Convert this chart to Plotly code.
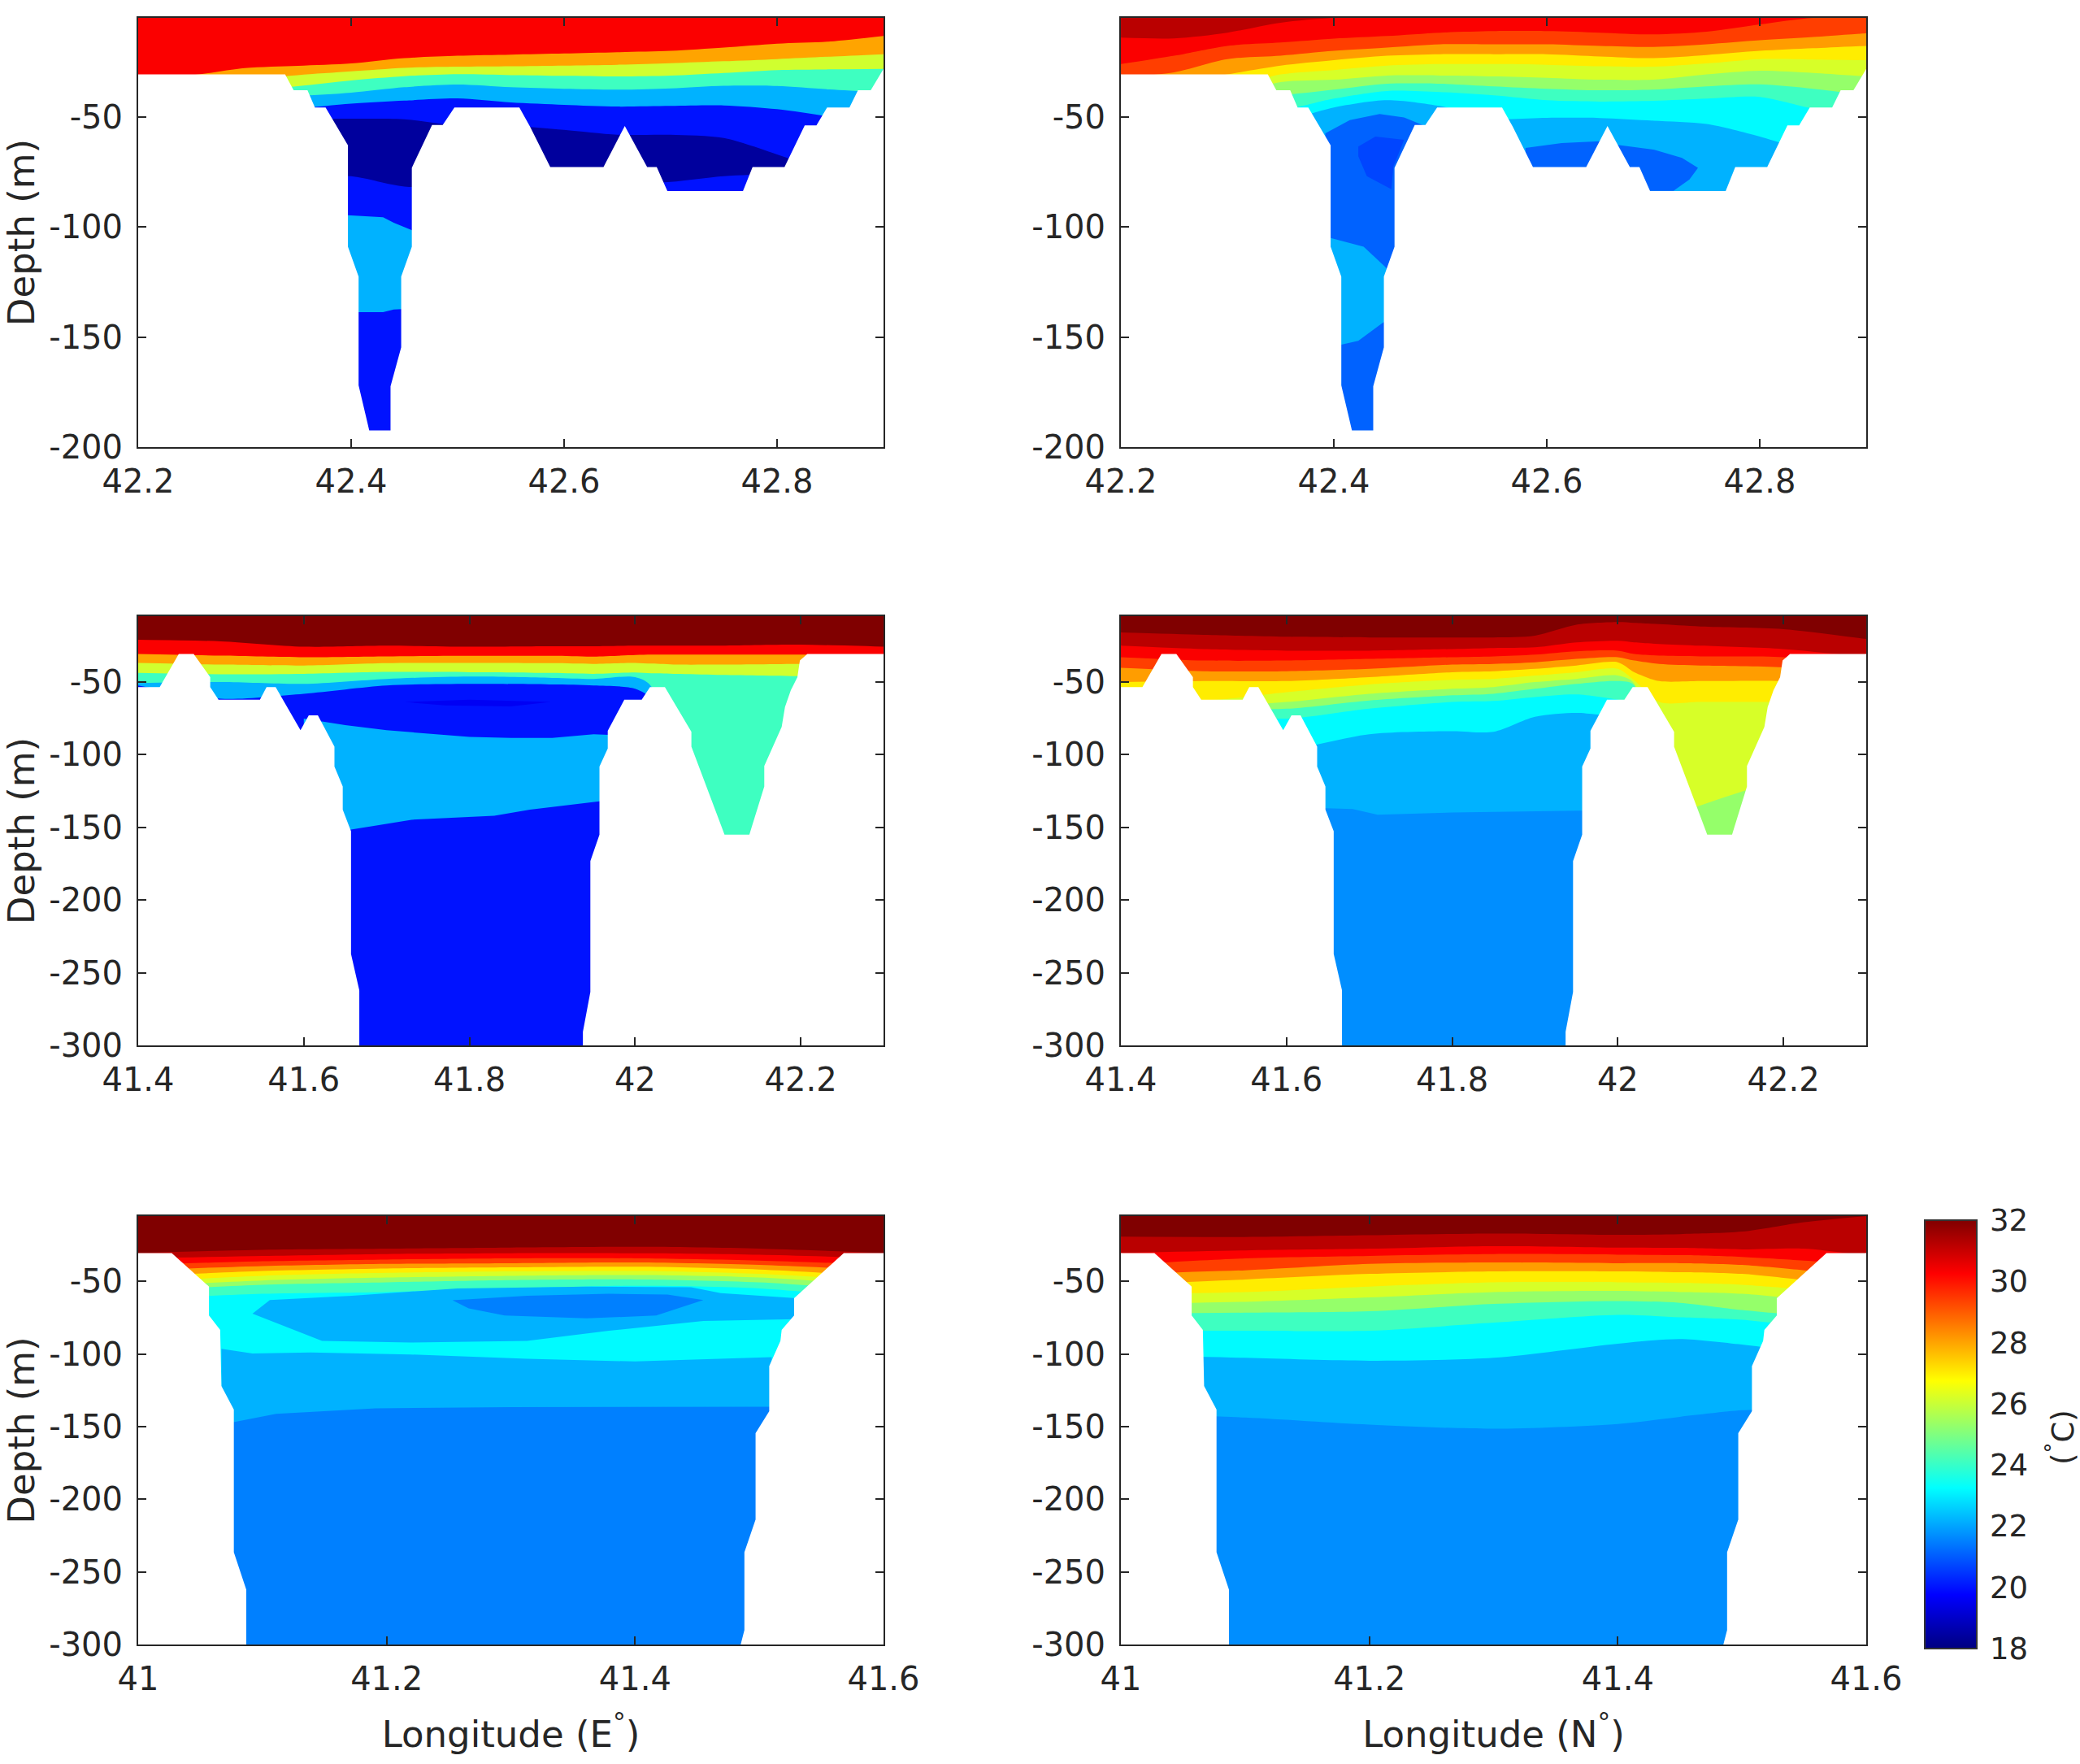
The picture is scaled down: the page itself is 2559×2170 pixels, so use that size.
import plotly.graph_objects as go
import plotly.colors as pc

# Colour scale of the temperature bar (MATLAB jet)
jet = [[0, 'rgb(0,0,128)'], [0.125, 'rgb(0,0,255)'], [0.375, 'rgb(0,255,255)'],
       [0.625, 'rgb(255,255,0)'], [0.875, 'rgb(255,0,0)'], [1, 'rgb(128,0,0)']]
temp_min = 18
temp_max = 32
colorbar_ticks = [18, 20, 22, 24, 26, 28, 30, 32]

# Sea floor of each row of panels (longitude, depth)
row1_floor_lon = [42.2, 42.338, 42.346, 42.359, 42.366, 42.376, 42.397, 42.397, 42.407, 42.407, 42.417, 42.437, 42.437,
                  42.447, 42.447, 42.457, 42.457, 42.476, 42.486, 42.497, 42.558, 42.568, 42.587, 42.637, 42.657, 42.678,
                  42.687, 42.697, 42.768, 42.777, 42.807, 42.826, 42.837, 42.847, 42.868, 42.876, 42.888, 42.9]
row1_floor_depth = [-30.7, -30.7, -37.9, -37.9, -45.7, -45.7, -62.9, -109, -122.5, -171.9, -192.4, -192.4, -172.4,
                    -154.7, -122.5, -109, -73.1, -53.7, -53.7, -45.7, -45.7, -54.4, -72.8, -72.8, -54.1, -72.8,
                    -72.8, -83.7, -83.7, -72.8, -72.8, -53.8, -53.8, -45.7, -45.7, -37.9, -37.9, -28.2]
row2_floor_lon = [41.4, 41.426, 41.449, 41.467, 41.487, 41.487, 41.497, 41.547, 41.555, 41.566, 41.596, 41.606, 41.617,
                  41.637, 41.637, 41.647, 41.647, 41.657, 41.657, 41.667, 41.667, 41.937, 41.937, 41.946, 41.946, 41.957,
                  41.957, 41.967, 41.967, 41.987, 42.008, 42.018, 42.036, 42.057, 42.068, 42.068, 42.108, 42.138, 42.156,
                  42.156, 42.177, 42.181, 42.188, 42.196, 42.199, 42.208, 42.3]
row2_floor_depth = [-53.7, -53.7, -31, -31, -46.9, -53.7, -62.4, -62.4, -53.7, -53.7, -83.4, -73.1, -73.1,
                    -94.7, -108.4, -122.1, -138, -152.8, -237.1, -262.2, -300, -300, -290.7, -263.3, -173.3, -155.1,
                    -108.4, -95.9, -83.8, -62.4, -62.4, -53.7, -53.7, -74.2, -84.5, -94.7, -155.1, -155.1, -122.1,
                    -108, -81.1, -67.4, -56, -46.9, -35.5, -31, -31]
row3_floor_lon = [41, 41.027, 41.057, 41.057, 41.066, 41.067, 41.077, 41.077, 41.087, 41.087, 41.485, 41.488, 41.488,
                  41.497, 41.497, 41.508, 41.508, 41.517, 41.518, 41.528, 41.528, 41.568, 41.6]
row3_floor_depth = [-30.4, -30.4, -53.5, -73.5, -83.4, -122, -138.2, -236.5, -262.2, -300, -300, -290, -236.5,
                    -214, -154.4, -139.4, -108.3, -90.9, -83.4, -73.5, -61.5, -30.4, -30.4]

# Panel A: temperature of each band, then the depth of the top of every band below the first
a_lon = [42.2, 42.25, 42.3, 42.35, 42.4, 42.45, 42.5, 42.55, 42.6, 42.65, 42.7, 42.75, 42.8, 42.85, 42.9]
a_temps = [30.3, 28, 26.1, 24.1, 22.2, 20, 18.4, 20]
a_tops = [
    [-31, -31, -27.8, -26.8, -25.7, -23.3, -22.2, -21.7, -21.2, -20.6, -20, -18.5, -16.7, -15.7, -13.2],
    [-34, -34, -33, -31, -29.3, -27.7, -27.2, -27, -26.7, -26.3, -25.6, -24.7, -23.7, -22.6, -21.5],
    [-38, -38, -38, -36, -33.4, -31.5, -30.6, -31, -31.3, -31.6, -31.2, -30, -28.7, -28.4, -28.2],
    [-41, -41, -41, -40.5, -39, -36.5, -35.3, -36.5, -37.2, -37.6, -37, -35.8, -35.9, -37.5, -39],
    [-46, -46, -46, -46, -44, -42.6, -41.6, -43.4, -44.5, -45.3, -45, -44.8, -46.5, -50, -55],
    [-51, -51, -51, -51, -50.8, -51.1, -54, -54, -55.9, -58.1, -58.1, -59.6, -67, -75, -80],
    [-76.9, -76.9, -76.9, -76.9, -76.9, -81.6, -81.5, -81, -81, -80.5, -79.5, -76.9, -76, -76, -76],
]
a_deep_lon = [42.39, 42.43, 42.44, 42.46]
a_deep_t22 = [-94.5, -95.6, -98.1, -102]
a_deep_t20 = [-138.7, -138.7, -137.5, -137]

# Panel B
b_lon = a_lon
b_temps = [31.2, 30.3, 29.4, 28.1, 27, 26.2, 25.3, 24.1, 23.2, 22.2]
b_tops = [
    [-14, -14.3, -11.7, -7.2, -5, -5, -5, -5, -5, -5, -5, -5, -5, -5, -5],
    [-26, -22.2, -17.7, -16.2, -14.4, -13.2, -11.7, -11, -11, -11.7, -12.5, -11.3, -8, -5, -5],
    [-32, -29.7, -23.7, -22.2, -20, -18.5, -17, -17, -17, -17.7, -18.2, -17, -15.2, -13.7, -12],
    [-35, -35, -30.7, -26.7, -24.2, -22.2, -21.5, -21.5, -21.5, -22.5, -23.3, -21.9, -20, -18.8, -17.7],
    [-37, -37, -37, -30.7, -28.7, -26.7, -26, -26, -26.3, -27, -27.2, -25.7, -23.7, -23.9, -24.2],
    [-40, -40, -40, -34.2, -33.1, -31.2, -31.2, -31.6, -32.2, -33.1, -33.1, -30.7, -29, -30, -31.6],
    [-42, -42, -42, -40.2, -37.6, -34.9, -34.9, -36.1, -37.2, -37.9, -37.6, -36.1, -35.2, -37.2, -40.2],
    [-47, -47, -47, -47, -41.7, -38.2, -38.7, -40.2, -42.4, -43, -42.7, -41.7, -40.9, -46.2, -50],
    [-52, -52, -52, -52, -45.7, -42.4, -45.1, -50.7, -50.4, -50.5, -51.7, -53.2, -58.9, -66, -70],
]
b_trench_lon = [42.392, 42.415, 42.443, 42.466, 42.487]
b_trench_t21 = [-57.4, -51.4, -48.7, -50.2, -54.4]
b_trench_low_lon = [42.397, 42.428, 42.448, 42.46]
b_trench_low_t22 = [-105, -109, -118, -125]
b_trench_floor_lon = [42.407, 42.423, 42.446, 42.46]
b_trench_floor_t21 = [-153.5, -151.7, -143.5, -140]
b_lens_lon = [42.423, 42.439, 42.466, 42.456, 42.454, 42.431, 42.423]
b_lens_depth = [-63.4, -58.9, -60.4, -72.4, -82.8, -76.9, -67.9]
b_trough1_lon = [42.58, 42.614, 42.65, 42.66]
b_trough1_t21 = [-64.1, -61.9, -61, -61]
b_trough2_lon = [42.665, 42.701, 42.727, 42.742, 42.734, 42.719, 42.681, 42.665]
b_trough2_depth = [-62.6, -64.9, -68.6, -73.1, -78.4, -83.6, -83.6, -73]

# Panel C
c_lon = [41.4, 41.5, 41.6, 41.7, 41.8, 41.9, 41.95, 42.0, 42.02, 42.05, 42.1, 42.2, 42.3]
c_temps = [32, 30.3, 28, 26.1, 24.1, 22.2, 20]
c_tops = [
    [-21.2, -22.3, -26, -25.3, -26, -25.7, -25.7, -25.3, -25.3, -25.3, -25.3, -24.6, -26],
    [-31, -32.1, -33.2, -32.6, -32.3, -32.3, -32.8, -31.7, -31.4, -31.4, -31.4, -31.4, -31.4],
    [-37.1, -38.3, -38.9, -37.3, -37.1, -37.3, -37.8, -37.1, -37.6, -38.3, -38.3, -37.8, -37.8],
    [-44, -44.9, -44.6, -43.3, -43.5, -44, -44.6, -43.7, -44.2, -44.6, -45.3, -46.2, -46.9],
    [-51, -50.3, -51.5, -48.1, -46.5, -47.4, -48.1, -46.9, -53.7, -300, -300, -300, -300],
    [-52.6, -61.7, -58.3, -52.6, -51.5, -51.9, -52.6, -54.9, -62.9, -300, -300, -300, -300],
]
c_mid_lon = [41.6, 41.65, 41.7, 41.75, 41.8, 41.85, 41.9, 41.95, 41.98]
c_mid_t22 = [-75.4, -79.9, -83.4, -85.6, -87.9, -88.6, -88.6, -86.1, -86.8]
c_deep_lon = [41.65, 41.657, 41.73, 41.83, 41.873, 41.957, 41.97]
c_deep_t20 = [-153, -151.7, -144.9, -142.1, -138, -132.3, -132]
c_lens_lon = [41.722, 41.77, 41.85, 41.898, 41.8, 41.722]
c_lens_depth = [-64, -66.3, -67, -64, -62.4, -64]

# Panel D
d_lon = [41.4, 41.5, 41.6, 41.7, 41.8, 41.85, 41.9, 41.95, 42.0, 42.02, 42.05, 42.1, 42.2, 42.3]
d_temps = [32, 31.2, 30.3, 29.4, 28.1, 27, 26.2, 25.3, 24.1, 23.2, 22.2]
d_tops = [
    [-16.2, -17.8, -19.1, -19.6, -19.6, -19.6, -18.4, -10.9, -9.1, -9.6, -10.5, -12.1, -13.9, -20.7],
    [-25.3, -27.6, -28.7, -28.7, -27.6, -26.9, -26.4, -23, -21.9, -23, -24.1, -25.3, -27.6, -33.2],
    [-33.2, -35.5, -35.5, -34.4, -33.2, -32.6, -31.4, -29.1, -28.7, -31, -32.1, -32.6, -33.2, -40.1],
    [-40.5, -42.8, -42.8, -41.2, -38.3, -37.8, -36.7, -34.4, -33.2, -35.5, -37.8, -38.9, -40.1, -44.6],
    [-50.3, -49.6, -49.6, -46.9, -43.5, -42.8, -41.2, -38.9, -36.7, -43.5, -49.6, -49.6, -49.6, -53.7],
    [-58.3, -62.9, -57.2, -51.9, -48.7, -48.1, -45.8, -43.5, -41.2, -49.2, -64, -64, -64, -65.1],
    [-62.9, -67.4, -64, -58.3, -54.9, -53.7, -50.3, -48.1, -45.8, -51.5, -300, -300, -300, -300],
    [-65.1, -68.6, -68.6, -62.9, -59.4, -58.3, -54.9, -51.5, -49.6, -52.6, -300, -300, -300, -300],
    [-69.7, -72, -75.4, -68.6, -64, -63.3, -60.6, -58.8, -62.4, -65.1, -300, -300, -300, -300],
    [-100, -100, -97, -86.1, -84, -84.5, -74.2, -71.5, -74, -74, -300, -300, -300, -300],
]
d_deep_lon = [41.64, 41.68, 41.71, 41.8, 41.97]
d_deep_t22 = [-136.9, -137.6, -141.4, -139.9, -138.5]
d_tip_lon = [42.09, 42.096, 42.125, 42.156, 42.16]
d_tip_t25 = [-137, -135.8, -130.1, -124.4, -123]

# Panel E
e_lon = [41, 41.1, 41.2, 41.3, 41.4, 41.5, 41.6]
e_temps = [32, 31.2, 30.3, 29.4, 28.1, 27, 26.2, 25.3, 24.1, 23.2]
e_tops = [
    [-30.4, -28.2, -27.4, -26.7, -26.2, -27.4, -30.4],
    [-34.1, -32.4, -31.1, -30.6, -30.6, -31.6, -34.1],
    [-38.6, -36.1, -34.9, -34.1, -34.1, -35.6, -38.6],
    [-42.3, -39.4, -37.9, -37.4, -36.9, -38.6, -42.3],
    [-46.6, -42.8, -41.1, -40.3, -39.9, -41.8, -46.6],
    [-50.3, -46.1, -44.1, -43.1, -42.8, -44.8, -49.8],
    [-53.5, -49.3, -47.3, -46.1, -45.6, -47.3, -53],
    [-56.5, -52.3, -50.6, -49.1, -48.6, -50.6, -56.5],
    [-62.3, -58.5, -57.3, -54.8, -53, -54.8, -62.3],
]
e_lens_lon = [41.106, 41.172, 41.257, 41.361, 41.445, 41.469, 41.53, 41.53, 41.455, 41.379, 41.313, 41.219, 41.148,
              41.125, 41.092, 41.106]
e_lens_depth = [-62.8, -59.8, -54.8, -53.5, -54, -58, -61.5, -76, -77.2, -83.9, -90.9, -92.1, -90.9,
                -83.4, -72.2, -62.8]
e_core_lon = [41.253, 41.313, 41.379, 41.426, 41.455, 41.417, 41.361, 41.295, 41.266, 41.253]
e_core_depth = [-63, -59.8, -58.5, -59, -62.8, -73.5, -75.4, -73.5, -68.5, -63]
e_low_lon = [41.067, 41.092, 41.139, 41.219, 41.313, 41.4, 41.51]
e_low_t22 = [-96.4, -99.6, -98.9, -100.3, -103.3, -105.1, -102.1]
e_deep_lon = [41.07, 41.077, 41.111, 41.191, 41.3, 41.52]
e_deep_t21 = [-148, -146.9, -141.2, -137.4, -136.5, -136.2]

# Panel F
f_lon = [41, 41.1, 41.2, 41.3, 41.4, 41.45, 41.5, 41.55, 41.6]
f_temps = [32, 31.2, 30.3, 29.4, 28.1, 27, 26.2, 25.3, 24.1, 23.2, 22.2, 21.7]
f_tops = [
    [-19.2, -19.4, -18.2, -17, -17.9, -17.4, -15.7, -9.2, -5],
    [-30.4, -28.6, -27.4, -25.7, -26.7, -26.9, -27.9, -27.4, -32.4],
    [-38.6, -34.1, -32.4, -31.1, -31.6, -31.9, -33.1, -35.6, -38.6],
    [-44.8, -42.3, -37.9, -36.9, -37.4, -37.4, -38.6, -42.3, -46.1],
    [-52.3, -48.6, -44.8, -43.1, -43.1, -43.6, -44.8, -49.1, -53.5],
    [-59, -57.3, -53.5, -50.6, -50.6, -51.1, -52.3, -55.5, -58.5],
    [-65.5, -64, -61, -57.3, -56.5, -57.3, -58.5, -62.3, -66],
    [-72.2, -71.5, -70.5, -65.5, -63.5, -64.7, -69.7, -73.5, -76],
    [-83.9, -83.9, -83.9, -78.4, -73, -74.7, -76.4, -80.9, -83.4],
    [-100.3, -102.6, -104.6, -102.6, -92.9, -89.6, -93.4, -98.4, -98.4],
    [-140.7, -143.7, -148.6, -151.4, -148.1, -143.2, -138.7, -136.9, -136.9],
]

row1_xticks = [42.2, 42.4, 42.6, 42.8]
row2_xticks = [41.4, 41.6, 41.8, 42, 42.2]
row3_xticks = [41, 41.2, 41.4, 41.6]
row1_yticks = [-50, -100, -150, -200]
deep_yticks = [-50, -100, -150, -200, -250, -300]
axis_top = -5


def jet_color(temp):
    return pc.sample_colorscale(jet, [(temp - temp_min) / (temp_max - temp_min)])[0]


W, H = 2559, 2170
fig = go.Figure()


def fill_poly(n, xs, ys, color):
    fig.add_trace(go.Scatter(
        x=xs, y=ys, mode='lines', line=dict(width=0), fill='toself', fillcolor=color,
        hoverinfo='skip', showlegend=False, xaxis='x%d' % n, yaxis='y%d' % n
    ))


def band(n, temp, lons, tops, bottom):
    # everything below the top of the band gets its colour
    fill_poly(n, list(lons) + [lons[-1], lons[0]], list(tops) + [bottom, bottom], jet_color(temp))


def bands(n, temps, lons, tops, bottom):
    # painted from the deepest band up: each one fills from its lower edge to the surface
    edges = [[bottom] * len(lons)] + tops[::-1]
    for temp, edge in zip(temps[::-1], edges):
        fig.add_trace(go.Scatter(
            x=lons, y=edge, mode='lines', line=dict(width=0, shape='spline', smoothing=0.8),
            fill='tozeroy', fillcolor=jet_color(temp),
            hoverinfo='skip', showlegend=False, xaxis='x%d' % n, yaxis='y%d' % n
        ))


def floor(n, lons, depths, bottom):
    fill_poly(n, list(lons) + [lons[-1], lons[0]], list(depths) + [bottom, bottom], 'white')


# Panel A
bands(1, a_temps, a_lon, a_tops, -200)
band(1, 22.2, a_deep_lon, a_deep_t22, -200)
band(1, 20, a_deep_lon, a_deep_t20, -200)
floor(1, row1_floor_lon, row1_floor_depth, -200)

# Panel B
bands(2, b_temps, b_lon, b_tops, -200)
band(2, 21.1, b_trench_lon, b_trench_t21, -200)
fill_poly(2, b_lens_lon, b_lens_depth, jet_color(20.7))
band(2, 22.2, b_trench_low_lon, b_trench_low_t22, -200)
band(2, 21.1, b_trench_floor_lon, b_trench_floor_t21, -200)
band(2, 21.1, b_trough1_lon, b_trough1_t21, -200)
fill_poly(2, b_trough2_lon, b_trough2_depth, jet_color(21.1))
floor(2, row1_floor_lon, row1_floor_depth, -200)

# Panel C
bands(3, c_temps, c_lon, c_tops, -300)
fill_poly(3, c_lens_lon, c_lens_depth, jet_color(19.6))
band(3, 22.2, c_mid_lon, c_mid_t22, -300)
band(3, 20, c_deep_lon, c_deep_t20, -300)
floor(3, row2_floor_lon, row2_floor_depth, -300)

# Panel D
bands(4, d_temps, d_lon, d_tops, -300)
band(4, 21.7, d_deep_lon, d_deep_t22, -300)
band(4, 25.3, d_tip_lon, d_tip_t25, -300)
floor(4, row2_floor_lon, row2_floor_depth, -300)

# Panel E
bands(5, e_temps, e_lon, e_tops, -300)
fill_poly(5, e_lens_lon, e_lens_depth, jet_color(22.2))
fill_poly(5, e_core_lon, e_core_depth, jet_color(21.5))
band(5, 22.2, e_low_lon, e_low_t22, -300)
band(5, 21.5, e_deep_lon, e_deep_t21, -300)
floor(5, row3_floor_lon, row3_floor_depth, -300)

# Panel F
bands(6, f_temps, f_lon, f_tops, -300)
floor(6, row3_floor_lon, row3_floor_depth, -300)

# Temperature bar
fig.add_trace(go.Scatter(
    x=[None], y=[None], mode='markers', hoverinfo='skip', showlegend=False, xaxis='x6', yaxis='y6',
    marker=dict(
        color=[temp_min], colorscale=jet, cmin=temp_min, cmax=temp_max, showscale=True,
        colorbar=dict(
            x=2368 / W, xanchor='left', xpad=0, y=1 - 2028 / H, yanchor='bottom', ypad=0,
            len=527, lenmode='pixels', thickness=64, thicknessmode='pixels',
            tickvals=colorbar_ticks, ticks='outside', ticklen=8, tickcolor='rgba(0,0,0,0)',
            tickfont=dict(family='DejaVu Sans', size=37, color='#262626'),
            outlinecolor='#333333', outlinewidth=2
        )
    )
))

lefts = [(170, 1087), (1379, 2296)]
rows = [(22, 550), (758, 1286), (1496, 2023)]
ranges = [(42.2, 42.9), (41.4, 42.3), (41, 41.6)]
xticks = [row1_xticks, row2_xticks, row3_xticks]
yticks = [row1_yticks, deep_yticks, deep_yticks]
bottoms = [-200, -300, -300]
xtitles = ['Longitude (E<sup>°</sup>)', 'Longitude (N<sup>°</sup>)']

axis_style = dict(
    showgrid=False, zeroline=False, showline=True, linecolor='#262626', linewidth=2, mirror='ticks',
    ticks='inside', ticklen=10, tickcolor='#262626', tickwidth=2, layer='above traces',
    tickfont=dict(family='DejaVu Sans', size=40, color='#262626'), automargin=False
)

layout = {}
for r in range(3):
    for c in range(2):
        n = r * 2 + c + 1
        xa = dict(
            domain=[lefts[c][0] / W, lefts[c][1] / W], range=list(ranges[r]), anchor='y%d' % n,
            tickvals=xticks[r], ticktext=['%g' % v for v in xticks[r]], ticklabelstandoff=6, **axis_style
        )
        ya = dict(
            domain=[1 - rows[r][1] / H, 1 - rows[r][0] / H], range=[bottoms[r], axis_top], anchor='x%d' % n,
            tickvals=yticks[r], ticktext=['%d' % v for v in yticks[r]], ticklabelstandoff=9, **axis_style
        )
        if r == 2:
            xa['title'] = dict(text=xtitles[c], font=dict(family='DejaVu Sans', size=45, color='#262626'), standoff=30)
        if c == 0:
            ya['title'] = dict(text='Depth (m)', font=dict(family='DejaVu Sans', size=45, color='#262626'), standoff=20)
        layout['xaxis%d' % n] = xa
        layout['yaxis%d' % n] = ya

fig.update_layout(
    width=W, height=H, margin=dict(l=0, r=0, t=0, b=0),
    paper_bgcolor='white', plot_bgcolor='white', showlegend=False,
    annotations=[dict(
        text='(<sup>°</sup>C)', xref='paper', yref='paper', x=2535 / W, y=1 - 1768 / H, textangle=-90,
        xanchor='center', yanchor='middle',
        showarrow=False, font=dict(family='DejaVu Sans', size=37, color='#262626')
    )],
    **layout
)

fig.write_html("out.html", config={'displayModeBar': False},
               post_script="document.body.style.margin='0';document.body.style.overflow='hidden';")
